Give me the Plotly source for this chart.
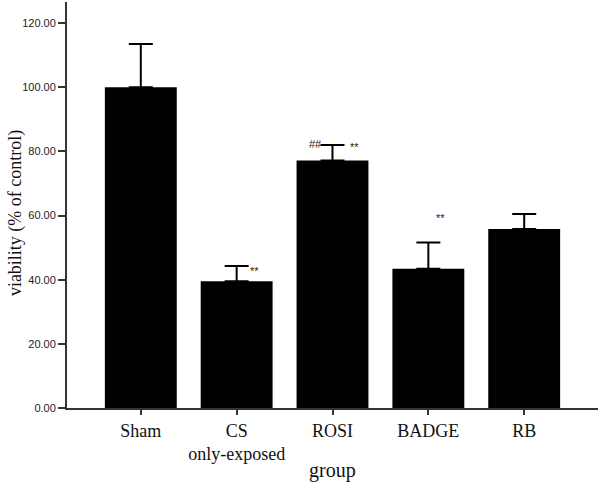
import plotly.graph_objects as go

categories = ["Sham", "CS<br>only-exposed", "ROSI", "BADGE", "RB"]
viability = [100.0, 39.5, 77.2, 43.4, 55.8]
error_plus = [13.5, 4.8, 4.8, 8.2, 4.7]
y_ticks = [0, 20, 40, 60, 80, 100, 120]

# significance marks: (category index, text, x shift px, y shift px from cap)
sig_marks = [
    (1, "**", 18, -5),
    (2, "##", -17, 1),
    (2, "**", 22, -2),
    (3, "**", 12, 25),
]

serif = "Liberation Serif, Times New Roman, serif"
sans = "Liberation Sans, Arial, sans-serif"

x_idx = list(range(len(categories)))

fig = go.Figure()
fig.add_trace(go.Bar(
    x=x_idx,
    y=viability,
    marker=dict(color="#000000", line=dict(color="#000000", width=0)),
    width=0.75,
    error_y=dict(type="data", symmetric=False, array=error_plus,
                 arrayminus=[0] * len(viability),
                 color="#000000", thickness=2, width=12),
    showlegend=False,
))

for i, txt, xs, ys in sig_marks:
    fig.add_annotation(
        x=i, y=viability[i] + error_plus[i], text=txt, showarrow=False,
        xshift=xs, yshift=ys, font=dict(family=sans, size=11, color="#222"),
        xanchor="center", yanchor="middle",
    )

# axis titles
fig.add_annotation(
    x=0.5, y=0, xref="paper", yref="paper", text="group", showarrow=False,
    yshift=-62, xanchor="center", yanchor="middle",
    font=dict(family=serif, size=20, color="#111"),
)
fig.add_annotation(
    x=0, y=0.48, xref="paper", yref="paper", text="viability (% of control)",
    showarrow=False, xshift=-52, textangle=-90, xanchor="center", yanchor="middle",
    font=dict(family=serif, size=18, color="#111"),
)

fig.update_layout(
    width=600, height=492,
    margin=dict(l=67, r=2, t=2, b=84),
    paper_bgcolor="white", plot_bgcolor="white",
    bargap=0.25,
    xaxis=dict(
        tickmode="array", tickvals=x_idx, ticktext=categories,
        range=[-0.77, 4.77], automargin=False,
        showline=True, linecolor="#333", linewidth=2,
        ticks="outside", ticklen=5, tickwidth=1.5, tickcolor="#333",
        tickfont=dict(family=serif, size=18, color="#111"),
        showgrid=False, zeroline=False,
    ),
    yaxis=dict(
        range=[0, 126.6], automargin=False,
        tickmode="array", tickvals=y_ticks,
        ticktext=[f"{v:.2f}" for v in y_ticks],
        showline=True, linecolor="#333", linewidth=2,
        ticks="outside", ticklen=7, tickwidth=1.5, tickcolor="#333",
        tickfont=dict(family=sans, size=11, color="#222"),
        showgrid=False, zeroline=False,
    ),
)

fig.write_html(
    "out.html",
    config={"displayModeBar": False},
    post_script="document.body.style.margin='0';document.body.style.overflow='hidden';",
)
